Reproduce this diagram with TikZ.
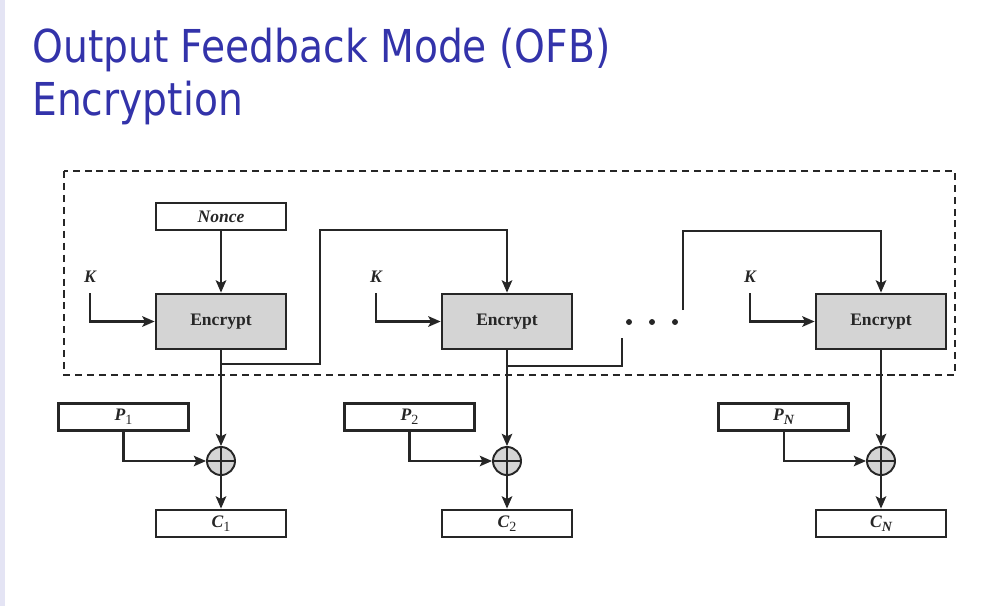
\documentclass[tikz,border=0pt]{standalone}
\usepackage{fontspec}
\setmainfont{Liberation Serif}
\newfontfamily\titlefont[FakeStretch=0.865]{DejaVu Sans}
\usepackage{tikz}
\usetikzlibrary{positioning,arrows.meta,calc}
\usepackage{xcolor}
\definecolor{titleblue}{RGB}{51,51,170}
\definecolor{sidebar}{RGB}{228,228,244}
\definecolor{encfill}{RGB}{212,212,212}
\newcommand{\lowsub}[1]{\raisebox{-0.45ex}{\footnotesize #1}}

\begin{document}
\begin{tikzpicture}[x=0.02cm,y=-0.02cm,
  title/.style={font=\titlefont\fontsize{25.8}{31}\selectfont, text=titleblue, inner sep=0pt, anchor=base west},
  blockbox/.style={draw=black!85, line width=1.6pt, minimum width=2.6cm, minimum height=0.54cm, inner sep=0pt, font=\bfseries\itshape, text=black!85},
  encbox/.style={blockbox, fill=encfill, minimum height=1.1cm, font=\bfseries},
  xorc/.style={circle, draw=black!85, fill=encfill, line width=1.1pt, minimum size=0.56cm, inner sep=0pt,
    path picture={\draw[line width=1.1pt, black!85] (path picture bounding box.north) -- (path picture bounding box.south)
      (path picture bounding box.west) -- (path picture bounding box.east);}},
  klabel/.style={font=\bfseries\itshape, text=black!85, inner sep=0pt, anchor=base},
  wire/.style={line width=1.15pt, black!85},
  arr/.style={wire, -{Stealth[length=7pt,width=6pt,inset=1.5pt]}}
]
\useasboundingbox (0,0) rectangle (1007,606);
\fill[sidebar] (0,0) rectangle (4.5,606);
\node[title] (t1) at (32,62) {Output Feedback Mode (OFB)};
\node[title] (t2) at (32,115) {Encryption};
% dashed frame round the keystream part
\draw[black!85, line width=1.4pt, dash pattern=on 4pt off 2.8pt] (64,171) rectangle (955,375);
\node[blockbox] (nonce) at (221,216.5) {Nonce};
\foreach \cx/\sub [count=\i] in {221/{\mdseries\upshape 1},507/{\mdseries\upshape 2},881/N}{
  \node[encbox] (enc\i) at (\cx,321.5) {Encrypt};
  \node[klabel] (k\i) at (\cx-131,282) {K};
  \node[blockbox] (p\i) at (\cx-97.5,417) {P\lowsub{\sub}};
  \node[xorc] (xor\i) at (\cx,461) {};
  \node[blockbox] (c\i) at (\cx,523.5) {C\lowsub{\sub}};
  \draw[arr] ([yshift=-0.22cm]k\i.south) |- (enc\i.west);
  \draw[arr] (enc\i.south) -- (xor\i.north);
  \draw[arr] (p\i.south) |- (xor\i.west);
  \draw[arr] (xor\i.south) -- (c\i.north);
}
\draw[arr] (nonce) -- (enc1);
% output fed back to the next block
\coordinate (fb2end) at (622,338);
\coordinate (fb3start) at (683,310);
\draw[arr] ($(enc1.south)+(0,14)$) -| (320,230) -| (enc2.north);
\draw[wire] ($(enc2.south)+(0,16)$) -| (fb2end);
\foreach \dx in {629,652,675} \fill[black!85] (\dx,322) circle (1.7pt);
\draw[arr] (fb3start) -- (683,231) -| (enc3.north);
\end{tikzpicture}
\end{document}
